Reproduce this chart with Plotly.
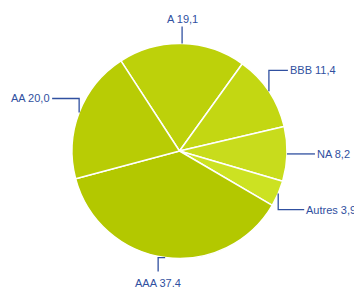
import math
import plotly.graph_objects as go

# Data
categories = ["A", "BBB", "NA", "Autres", "AAA", "AA"]
values = [19.1, 11.4, 8.2, 3.9, 37.4, 20.0]
value_labels = ["19,1", "11,4", "8,2", "3,9", "37,4", "20,0"]

# Styles
slice_colors = ["#bdd10a", "#c3d712", "#c8dc1c", "#cce222", "#b3c800", "#b8cc05"]
text_color = "#3050a0"
W, H = 354, 287
CX, CY, R = 179.5, 151.0, 107.5   # pie centre / radius in pixels
ROTATION = -33.0

# leader style per label: (vertical offset px, horizontal offset px, text anchor)
leader = {
    "A": (-17, 0, "top"),
    "BBB": (-21, 19, "right"),
    "NA": (0, 28, "right"),
    "Autres": (16, 26, "right"),
    "AAA": (0, -7, "bottom"),
    "AA": (-14, -27, "left"),
}

fig = go.Figure(go.Pie(
    labels=categories, values=values, sort=False, direction="clockwise",
    rotation=ROTATION, textinfo="none", hoverinfo="label+value",
    marker=dict(colors=slice_colors, line=dict(color="white", width=1.5)),
    domain=dict(x=[(CX - R) / W, (CX + R) / W], y=[(H - CY - R) / H, (H - CY + R) / H]),
    showlegend=False,
))

def px(x, y):
    return x / W, 1 - y / H

total = sum(values)
cum = 0.0
shapes, annots = [], []
for cat, v, lab in zip(categories, values, value_labels):
    mid = ROTATION + (cum + v / 2) / total * 360
    cum += v
    a = math.radians(mid)
    ex, ey = CX + R * math.sin(a), CY - R * math.cos(a)
    dv, dh, anchor = leader[cat]
    if anchor == "bottom":
        p1 = (ex + dh, ey)
        p2 = (ex + dh, ey + 14)
    else:
        p1 = (ex, ey + dv)
        p2 = (ex + dh, ey + dv)
    pts = [(ex, ey), p1, p2]
    path = "M " + " L ".join(f"{px(x, y)[0]},{px(x, y)[1]}" for x, y in pts)
    shapes.append(dict(type="path", xref="paper", yref="paper", path=path,
                       line=dict(color=text_color, width=1.3)))
    tx, ty = px(*p2)
    text = f"{cat} {lab}"
    if anchor == "top":
        annots.append(dict(x=tx, y=ty, xanchor="center", yanchor="bottom", yshift=1))
    elif anchor == "right":
        annots.append(dict(x=tx, y=ty, xanchor="left", yanchor="middle", xshift=1))
    elif anchor == "left":
        annots.append(dict(x=tx, y=ty, xanchor="right", yanchor="middle", xshift=-1))
    else:
        annots.append(dict(x=tx, y=ty, xanchor="center", yanchor="top", yshift=-4))
    annots[-1].update(text=text, showarrow=False, xref="paper", yref="paper",
                      font=dict(family="Liberation Sans, Arial, sans-serif", size=11, color=text_color),
                      borderpad=0)

fig.update_layout(
    width=W, height=H, margin=dict(l=0, r=0, t=0, b=0),
    paper_bgcolor="white", plot_bgcolor="white",
    shapes=shapes, annotations=annots,
)
fig.write_html("out.html", config={"displayModeBar": False},
               post_script="document.body.style.margin='0';")
